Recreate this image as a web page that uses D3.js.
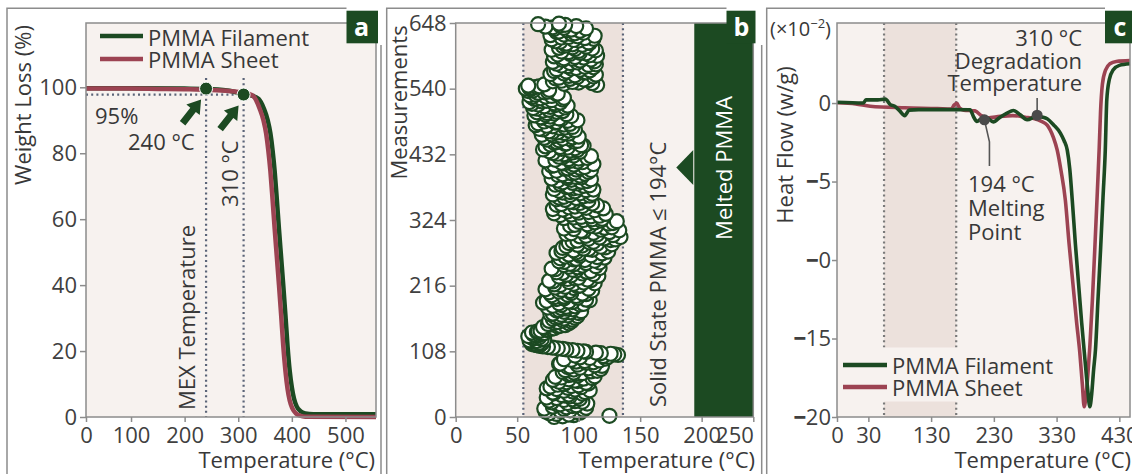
<!DOCTYPE html>
<html>
<head>
<meta charset="utf-8">
<title>PMMA thermal analysis</title>
<style>
  body { margin: 0; background: #fff; }
  svg { display: block; font-family: "Open Sans", "DejaVu Sans", sans-serif; }
</style>
</head>
<body>
<svg id="chart" width="1132" height="474"></svg>
<script src="https://cdn.jsdelivr.net/npm/d3@7"></script>
<script>
// ---------- data ----------
// (a) TGA, weight loss (%) vs temperature (°C)
var sheetT = [16, 60, 100, 150, 200, 260, 300, 315, 323, 330, 340, 347, 352, 356, 360, 364, 368, 372, 376, 380, 384, 388, 392, 396, 401, 408, 415, 425, 557];
var sheetW = [99.6, 99.6, 99.6, 99.5, 99.4, 99.1, 98.6, 98.2, 97.8, 97.0, 93.5, 90.0, 86.0, 81.0, 74.5, 66.0, 57.0, 48.5, 40.0, 31.0, 21.5, 14.0, 8.5, 5.0, 2.6, 1.0, 0.4, 0.1, 0];
var filamentT = [16, 100, 200, 240, 280, 310, 325, 338, 348, 355, 360, 364, 368, 372, 376, 380, 384, 388, 392, 396, 400, 404, 409, 416, 425, 440, 557];
var filamentW = [99.7, 99.7, 99.6, 99.5, 99.0, 98.0, 97.5, 96.5, 93.5, 90.0, 86.0, 81.0, 74.5, 66.0, 57.0, 48.5, 40.0, 31.0, 21.5, 14.0, 9.0, 5.6, 3.2, 1.8, 1.1, 0.85, 0.8];
var aMarkT = [240, 310];
var aMarkW = [99.6, 97.8];
var aTickVals = [16, 100, 200, 300, 400, 500];
var aTickLabels = ["0", "100", "200", "300", "400", "500"];
var aYTicks = [0, 20, 40, 60, 80, 100];

// (b) temperature of each measurement: even measurements 0..646
var bTempsEven = [
  80,125,92,76,99,85,104,72,90,95,83,107,78,97,88,101,74,93,
  86,103,79,95,109,82,91,77,100,88,106,84,97,92,111,81,99,94,
  103,87,115,96,108,91,119,99,85,112,105,94,122,101,120,132,126,114,
  104,95,87,79,71,66,62,68,64,60,70,65,61,67,63,72,66,69,
  74,80,71,85,77,92,83,76,95,88,81,99,86,79,93,102,84,90,
  75,97,86,104,71,92,109,82,99,88,78,106,94,84,111,73,96,89,
  101,80,113,92,76,107,97,86,116,90,103,82,110,95,78,99,114,88,
  93,117,84,105,98,121,89,110,100,82,124,96,108,87,118,103,127,92,
  112,99,130,121,134,106,115,94,125,102,118,88,127,109,97,124,113,131,
  104,119,96,110,85,122,100,91,113,79,106,97,115,86,101,93,108,82,
  98,88,109,79,101,93,84,112,96,90,104,81,99,87,107,94,78,102,
  91,83,105,97,76,110,89,101,94,80,112,86,99,73,92,107,84,96,
  88,79,101,93,71,97,85,104,77,90,82,99,74,87,95,80,70,92,
  83,76,97,68,89,79,65,93,81,72,99,86,70,77,64,90,74,82,
  71,84,63,77,91,67,80,60,74,87,69,62,78,65,83,72,59,76,
  57,62,68,115,88,100,79,108,93,84,112,97,77,104,90,109,82,98,
  105,86,114,93,79,101,110,88,97,115,83,106,92,100,78,111,95,87,
  103,90,108,81,96,112,86,99,77,94,104,84,91,80,88,73,85,67
];
// odd measurements 1..647
var bTempsOdd = [
  87,96,82,101,73,93,88,106,79,98,85,91,103,76,95,82,99,89,
  92,80,105,88,97,74,102,94,83,108,90,99,79,104,86,113,92,98,
  96,110,89,118,101,93,113,84,106,98,117,88,109,124,97,129,118,106,
  99,90,83,75,68,64,70,61,66,72,63,68,59,65,71,62,67,74,
  78,72,83,89,75,80,94,87,79,97,84,91,77,100,88,82,95,86,
  90,79,101,84,95,74,106,88,80,98,91,103,76,93,86,108,81,99,
  85,96,104,79,110,91,100,84,94,112,87,106,98,81,117,92,103,96,
  106,88,113,96,85,115,101,92,119,98,86,111,104,122,90,99,115,109,
  95,126,108,117,101,128,90,112,104,133,96,121,114,93,107,128,100,118,
  111,88,102,117,94,80,108,98,87,120,92,103,82,111,96,107,89,100,
  84,104,93,111,87,97,106,80,100,92,109,85,95,102,83,110,91,97,
  101,87,94,108,82,98,91,105,78,96,88,103,93,81,100,87,110,90,
  83,95,76,99,86,91,73,102,89,80,96,84,93,72,100,85,78,88,
  79,92,71,85,95,74,88,67,82,91,76,84,69,94,73,80,66,87,
  76,66,89,72,81,62,85,70,78,64,88,73,60,82,67,75,63,61,
  60,66,59,72,111,95,86,104,81,99,92,114,88,106,80,101,94,112,
  91,108,82,99,113,87,95,104,80,109,93,101,86,114,97,84,106,90,
  95,109,85,100,78,105,92,113,88,97,82,101,94,106,79,98,89,84
];
var bBand = [55, 136];
var bMelt = 194;
var bTickVals = [0, 50, 100, 150, 200, 242];
var bTickLabels = ["0", "50", "100", "150", "200", "250"];
var bYTicks = [0, 108, 216, 324, 432, 540, 648];

// (c) DSC, heat flow (x10^-2 W/g) vs temperature (°C)
var dscSheetT = [-20, 10, 33, 88, 140, 162, 167, 171, 175, 182, 200, 210, 220, 240, 260, 280, 295, 305, 315, 325, 331, 337, 344, 350, 356, 362, 367, 371, 374, 377, 380, 383, 387, 391, 395, 398, 400, 403, 408, 415, 425, 447];
var dscSheetV = [0.02, -0.05, -0.2, -0.3, -0.35, -0.38, -0.12, -0.02, -0.3, -0.45, -0.5, -0.8, -0.95, -0.85, -0.8, -0.9, -1.0, -1.15, -1.4, -2.2, -3.0, -4.3, -6.2, -9.0, -11.5, -14.0, -15.9, -17.9, -19.35, -18.6, -17.2, -15.5, -12.6, -9.2, -5.6, -2.8, -0.6, 1.2, 2.1, 2.5, 2.65, 2.7];
var dscFilT = [-20, 22, 26, 45, 57, 65, 72, 80, 88, 95, 110, 150, 192, 198, 203, 210, 219, 229, 240, 251, 261, 272, 283, 298, 308, 315, 325, 336, 342, 347, 351, 355, 360, 365, 370, 374, 379, 383, 386, 389, 392, 396, 400, 404, 407.6, 410, 414, 420, 430, 447];
var dscFilV = [0.05, 0.0, 0.2, 0.2, 0.25, -0.1, -0.2, -0.5, -0.8, -0.45, -0.42, -0.42, -0.43, -0.9, -1.17, -1.0, -0.96, -1.2, -0.9, -0.64, -0.47, -0.75, -1.06, -0.85, -0.9, -1.0, -1.38, -1.91, -2.4, -3.0, -4.2, -6.2, -9.0, -11.5, -14.0, -15.8, -18.0, -19.35, -18.5, -17.0, -15.7, -12.5, -9.4, -6.0, -3.0, 0.2, 1.5, 2.1, 2.4, 2.5];
var cBand = [55, 170];
var cMarkT = [215, 299];
var cMarkV = [-1.07, -0.77];
var cTickVals = [-20, 30, 130, 230, 330, 430];
var cTickLabels = ["0", "30", "130", "230", "330", "430"];
var cYTicks = [0, -5, -10, -15, -20];
var cYLabels = ["0", "−5", "−0", "−15", "−20"];

// ---------- style ----------
var green = "#1c4a22", red = "#9c4352", plotBg = "#f7f2ef", bandCol = "#ece1dc";
var frameCol = "#8c8c8c", dotCol = "#5b6478", textCol = "#383838";
var FONT = '"Open Sans", "DejaVu Sans", sans-serif';
var TOP = 23, BOTTOM = 417;

var svg = d3.select("#chart");
svg.append("rect").attr("width", 1132).attr("height", 474).attr("fill", "#fff");

function frame(left, right, boxX, boxW, letter) {
  svg.append("path")
    .attr("d", "M" + left + ",474V8.3H" + boxX + (right ? "M" + right + ",45V474" : ""))
    .attr("fill", "none").attr("stroke", frameCol).attr("stroke-width", 1.5);
  svg.append("rect").attr("x", boxX).attr("y", 10.7).attr("width", boxW).attr("height", 32.6).attr("fill", green);
  svg.append("text").attr("x", boxX + 15).attr("y", 36).attr("text-anchor", "middle")
    .attr("fill", "#fff").attr("font-size", 25).attr("font-weight", 700).text(letter);
}

function styleAxis(g) {
  g.attr("font-size", 22).attr("font-family", FONT);
  g.select(".domain").remove();
  g.selectAll(".tick line").attr("stroke", frameCol).attr("stroke-width", 1.5);
  g.selectAll(".tick text").attr("fill", "#404040");
}

function txt(g, x, y, s, anchor, size) {
  return g.append("text").attr("x", x).attr("y", y).attr("text-anchor", anchor || "start")
    .attr("font-size", size || 22).attr("fill", textCol).text(s);
}

function vtxt(g, x, y, s, anchor, fill) {
  return g.append("text").attr("transform", "translate(" + x + "," + y + ") rotate(-90)")
    .attr("text-anchor", anchor).attr("font-size", 22).attr("fill", fill || textCol).text(s);
}

function dotted(g, x1, y1, x2, y2, col) {
  g.append("line").attr("x1", x1).attr("y1", y1).attr("x2", x2).attr("y2", y2)
    .attr("stroke", col || dotCol).attr("stroke-width", 2.2).attr("stroke-dasharray", "2,3.2");
}

function border(g, x0, x1) {
  g.append("rect").attr("x", x0).attr("y", TOP).attr("width", x1 - x0).attr("height", BOTTOM - TOP)
    .attr("fill", "none").attr("stroke", frameCol).attr("stroke-width", 1.5);
}

// block arrow with tip at (x, y)
function arrow(g, x, y) {
  var pts = [[-30, -3.5], [-13, -3.5], [-13, -8.5], [0, 0], [-13, 8.5], [-13, 3.5], [-30, 3.5]];
  g.append("polygon").attr("points", pts.map(function (p) { return p.join(","); }).join(" "))
    .attr("fill", green).attr("transform", "translate(" + x + "," + y + ") rotate(-52)");
}

// ---------- (a) ----------
var xA = d3.scaleLinear().domain([16, 557]).range([86, 376]);
var yA = d3.scaleLinear().domain([0, 119.5]).range([BOTTOM, TOP]);
var gA = svg.append("g");
gA.append("rect").attr("x", 86).attr("y", TOP).attr("width", 290).attr("height", BOTTOM - TOP).attr("fill", plotBg);

aMarkT.forEach(function (t) { dotted(gA, xA(t), yA(102.8), xA(t), BOTTOM); });
dotted(gA, 86, yA(aMarkW[1]), xA(aMarkT[1]), yA(aMarkW[1]));

var lineA = d3.line().curve(d3.curveMonotoneX);
gA.append("path").attr("d", lineA(filamentT.map(function (t, i) { return [xA(t), yA(filamentW[i])]; })))
  .attr("fill", "none").attr("stroke", green).attr("stroke-width", 4.5);
gA.append("path").attr("d", lineA(sheetT.map(function (t, i) { return [xA(t), yA(sheetW[i])]; })))
  .attr("fill", "none").attr("stroke", red).attr("stroke-width", 4.5);

aMarkT.forEach(function (t, i) {
  gA.append("circle").attr("cx", xA(t)).attr("cy", yA(aMarkW[i])).attr("r", 6.5)
    .attr("fill", green).attr("stroke", "#fff").attr("stroke-width", 1);
  arrow(gA, xA(t) - 5, yA(aMarkW[i]) + 11);
});

txt(gA, 95, 123.5, "95%");
txt(gA, 128, 150, "240 °C");
vtxt(gA, 238, 207, "310 °C", "start");
vtxt(gA, 195, 410, "MEX Temperature", "start");

// legend (a)
gA.append("line").attr("x1", 100).attr("x2", 143).attr("y1", 36).attr("y2", 36).attr("stroke", green).attr("stroke-width", 4.5);
gA.append("line").attr("x1", 100).attr("x2", 143).attr("y1", 59).attr("y2", 59).attr("stroke", red).attr("stroke-width", 4.5);
txt(gA, 148, 45.5, "PMMA Filament");
txt(gA, 148, 68, "PMMA Sheet");

gA.append("g").attr("transform", "translate(0," + BOTTOM + ")")
  .call(d3.axisBottom(xA).tickValues(aTickVals).tickFormat(function (d, i) { return aTickLabels[i]; }).tickSize(5).tickPadding(5))
  .call(styleAxis);
gA.append("g").attr("transform", "translate(86,0)")
  .call(d3.axisLeft(yA).tickValues(aYTicks).tickSize(6).tickPadding(3))
  .call(styleAxis);
border(gA, 86, 376);
vtxt(gA, 31, 105, "Weight Loss (%)", "middle");
txt(gA, 375, 468, "Temperature (°C)", "end");

// ---------- (b) ----------
var xB = d3.scaleLinear().domain([0, 242]).range([455.7, 753.3]);
var yB = d3.scaleLinear().domain([0, 648]).range([BOTTOM, TOP]);
var gB = svg.append("g");
gB.append("rect").attr("x", 455.7).attr("y", TOP).attr("width", 753.3 - 455.7).attr("height", BOTTOM - TOP).attr("fill", plotBg);
gB.append("rect").attr("x", xB(bBand[0])).attr("y", TOP).attr("width", xB(bBand[1]) - xB(bBand[0]))
  .attr("height", BOTTOM - TOP).attr("fill", bandCol);
bBand.forEach(function (t) { dotted(gB, xB(t), TOP, xB(t), BOTTOM); });

gB.append("rect").attr("x", xB(bMelt)).attr("y", TOP).attr("width", 753.3 - xB(bMelt))
  .attr("height", BOTTOM - TOP).attr("fill", green);
var tipX = xB(bMelt) - 18;
gB.append("polygon").attr("points", [[tipX, 167.5], [xB(bMelt) - 1, 150], [xB(bMelt) - 1, 185]].map(function (p) { return p.join(","); }).join(" "))
  .attr("fill", green);
vtxt(gB, 731.5, 168, "Melted PMMA", "middle", "#fff");
vtxt(gB, 666, 407, "Solid State PMMA ≤ 194°C", "start");

// interleave even and odd measurements in measurement order
var bPoints = [];
bTempsEven.forEach(function (t, i) {
  bPoints.push({ m: 2 * i, t: t });
  bPoints.push({ m: 2 * i + 1, t: bTempsOdd[i] });
});
gB.selectAll("circle.pt").data(bPoints).enter().append("circle").attr("class", "pt")
  .attr("cx", function (d) { return xB(d.t); })
  .attr("cy", function (d) { return yB(d.m); })
  .attr("r", 7).attr("fill", "#fff").attr("stroke", green).attr("stroke-width", 2.2);

var axB = gB.append("g").attr("transform", "translate(0," + BOTTOM + ")")
  .call(d3.axisBottom(xB).tickValues(bTickVals).tickFormat(function (d, i) { return bTickLabels[i]; }).tickSize(5).tickPadding(5))
  .call(styleAxis);
axB.selectAll(".tick text").filter(function (d, i) { return i === bTickVals.length - 1; }).attr("text-anchor", "end");
gB.append("g").attr("transform", "translate(455.7,0)")
  .call(d3.axisLeft(yB).tickValues(bYTicks).tickSize(6).tickPadding(3))
  .call(styleAxis);
border(gB, 455.7, 753.3);
vtxt(gB, 407, 102.5, "Measurements", "middle");
txt(gB, 755, 468, "Temperature (°C)", "end");

// ---------- (c) ----------
var xC = d3.scaleLinear().domain([-20, 447]).range([837, 1130]);
var yC = d3.scaleLinear().domain([-20, 5.1]).range([BOTTOM, TOP]);
var gC = svg.append("g");
gC.append("rect").attr("x", 837).attr("y", TOP).attr("width", 1130 - 837).attr("height", BOTTOM - TOP).attr("fill", plotBg);
gC.append("rect").attr("x", xC(cBand[0])).attr("y", TOP).attr("width", xC(cBand[1]) - xC(cBand[0]))
  .attr("height", BOTTOM - TOP).attr("fill", bandCol);
cBand.forEach(function (t) { dotted(gC, xC(t), TOP, xC(t), BOTTOM, "#7a7a7a"); });

// legend background interrupts the band
gC.append("rect").attr("x", 838).attr("y", 347.5).attr("width", 220).attr("height", 54).attr("fill", plotBg);
gC.append("line").attr("x1", 843).attr("x2", 887).attr("y1", 365).attr("y2", 365).attr("stroke", green).attr("stroke-width", 4.5);
gC.append("line").attr("x1", 843).attr("x2", 887).attr("y1", 387).attr("y2", 387).attr("stroke", red).attr("stroke-width", 4.5);
txt(gC, 892, 373.5, "PMMA Filament");
txt(gC, 892, 395.5, "PMMA Sheet");

var lineC = d3.line().curve(d3.curveMonotoneX);
gC.append("path").attr("d", lineC(dscSheetT.map(function (t, i) { return [xC(t), yC(dscSheetV[i])]; })))
  .attr("fill", "none").attr("stroke", red).attr("stroke-width", 3.6);
gC.append("path").attr("d", lineC(dscFilT.map(function (t, i) { return [xC(t), yC(dscFilV[i])]; })))
  .attr("fill", "none").attr("stroke", green).attr("stroke-width", 3.6);

// annotations
var m1x = xC(cMarkT[0]), m1y = yC(cMarkV[0]), m2x = xC(cMarkT[1]), m2y = yC(cMarkV[1]);
gC.append("path").attr("d", "M" + m1x + "," + m1y + "L" + (m1x + 5) + "," + (m1y + 22) + "V166")
  .attr("fill", "none").attr("stroke", "#555").attr("stroke-width", 1.6);
gC.append("path").attr("d", "M" + m2x + "," + m2y + "V98")
  .attr("fill", "none").attr("stroke", "#555").attr("stroke-width", 1.6);
[[m1x, m1y], [m2x, m2y]].forEach(function (p) {
  gC.append("circle").attr("cx", p[0]).attr("cy", p[1]).attr("r", 5.5).attr("fill", "#4a4a4a");
});
txt(gC, 1082, 46, "310 °C", "end");
txt(gC, 1082, 69, "Degradation", "end");
txt(gC, 1082, 91, "Temperature", "end");
txt(gC, 968, 192, "194 °C");
txt(gC, 968, 216, "Melting");
txt(gC, 968, 240, "Point");

gC.append("g").attr("transform", "translate(0," + BOTTOM + ")")
  .call(d3.axisBottom(xC).tickValues(cTickVals).tickFormat(function (d, i) { return cTickLabels[i]; }).tickSize(5).tickPadding(5))
  .call(styleAxis);
var axCy = gC.append("g").attr("transform", "translate(837,0)")
  .call(d3.axisLeft(yC).tickValues(cYTicks).tickFormat(function (d, i) { return cYLabels[i]; }).tickSize(5).tickPadding(1))
  .call(styleAxis);
axCy.selectAll(".tick text").each(function () {
  var t = d3.select(this), s = t.text();
  if (s.charAt(0) === "−") {
    t.text(null);
    t.append("tspan").attr("font-weight", 800).text("−");
    t.append("tspan").text(s.slice(1));
  }
});
border(gC, 837, 1130);

var unit = gC.append("text").attr("x", 770).attr("y", 36).attr("font-size", 20).attr("fill", textCol);
unit.append("tspan").text("(×10");
unit.append("tspan").attr("dy", -8).attr("font-size", 13).text("−2");
unit.append("tspan").attr("dy", 8).text(")");
vtxt(gC, 792.5, 145, "Heat Flow (w/g)", "middle");
txt(gC, 1131, 468, "Temperature (°C)", "end");

// panel frames and letter boxes on top
frame(7, 381, 346.5, 31.5, "a");
frame(386.7, 761.7, 726.5, 29, "b");
frame(766.7, null, 1105, 30, "c");
</script>
</body>
</html>
